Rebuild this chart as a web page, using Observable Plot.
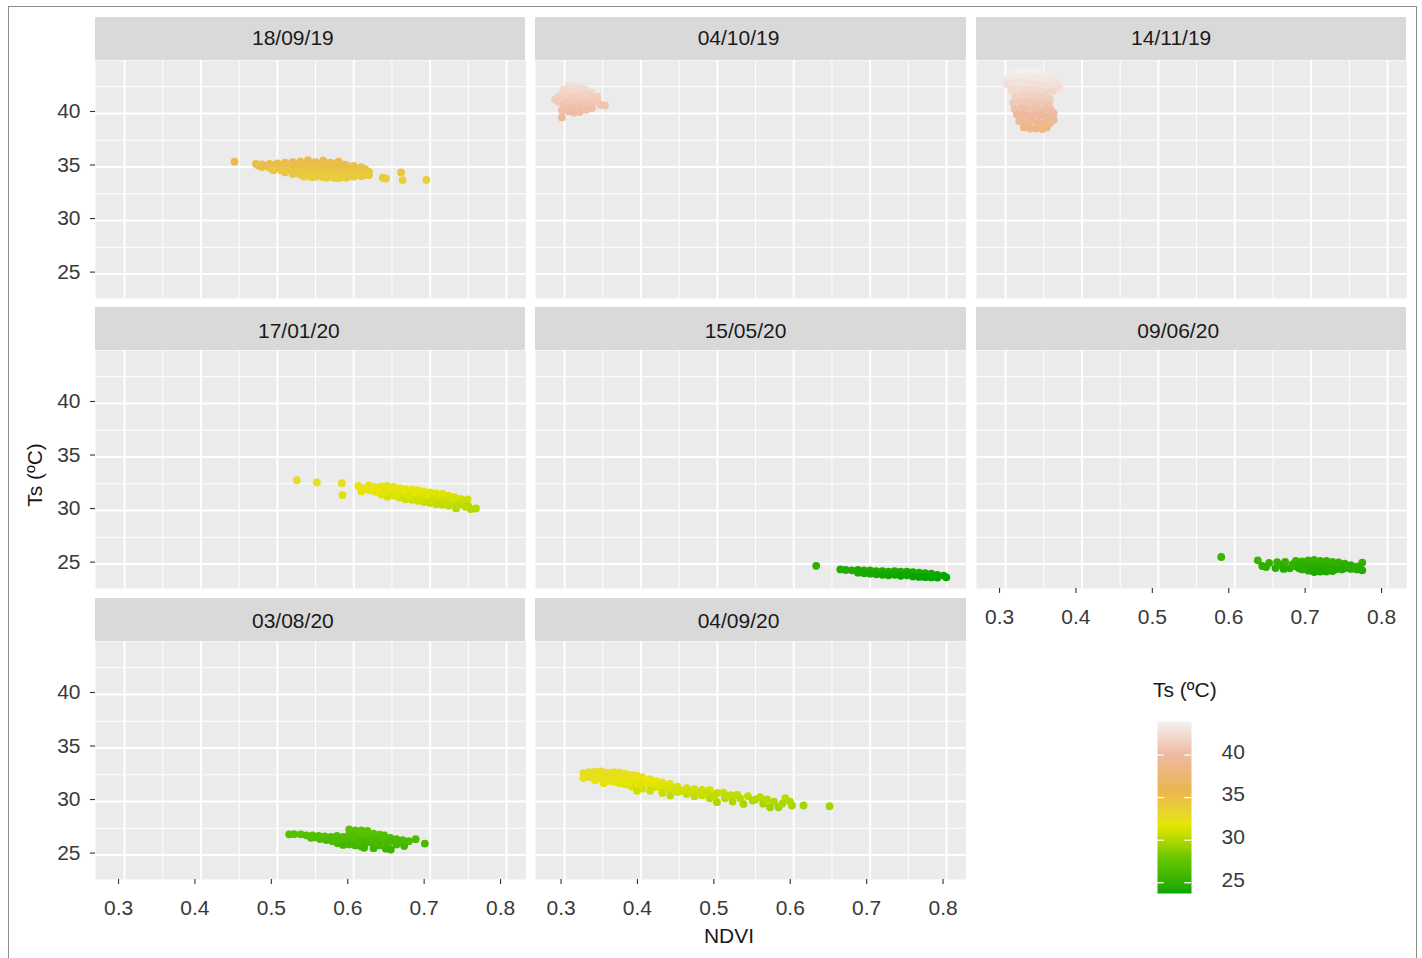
<!DOCTYPE html>
<html><head><meta charset="utf-8">
<script src="https://cdn.jsdelivr.net/npm/d3@7"></script>
<script src="https://cdn.jsdelivr.net/npm/@observablehq/plot@0.6"></script>
<style>
body{margin:0;background:#fff;font-family:"Liberation Sans",Arial,sans-serif;}
#chart{position:relative;width:1422px;height:958px;overflow:hidden;background:#fff;}
.strip{position:absolute;background:#d9d9d9;color:#1a1a1a;font-size:21px;}
.strip span{position:absolute;top:50%;white-space:nowrap;}
.abs{position:absolute;}
.lbl{position:absolute;font-size:21px;color:#1a1a1a;white-space:nowrap;}
</style></head><body><div id="chart"></div><script>
// ---- data ----
const dates = ["18/09/19","04/10/19","14/11/19","17/01/20","15/05/20","09/06/20","03/08/20","04/09/20"];
// each point: [NDVI, Ts]
const p180919 = [[0.444,35.5],[0.472,35.3],[0.48,35.25],[0.49,35.3],[0.50,35.35],[0.51,35.4],[0.52,35.45],[0.53,35.5],[0.54,35.65],[0.55,35.45],[0.56,35.6],[0.57,35.4],[0.58,35.5],[0.59,35.2],[0.60,35.1],[0.61,35.0],
 [0.48,35.0],[0.49,34.9],[0.50,34.95],[0.51,34.9],[0.52,34.85],[0.53,34.9],[0.54,34.85],[0.55,34.8],[0.56,34.85],[0.57,34.8],[0.58,34.75],[0.59,34.7],[0.60,34.65],[0.61,34.6],[0.62,34.55],
 [0.50,35.1],[0.52,35.15],[0.54,35.2],[0.56,35.2],[0.58,35.1],[0.60,34.95],
 [0.51,34.5],[0.52,34.35],[0.53,34.3],[0.54,34.2],[0.55,34.1],[0.56,34.05],[0.57,34.1],[0.58,33.95],[0.59,34.0],[0.60,34.1],[0.61,34.15],[0.62,34.25],
 [0.53,34.6],[0.55,34.5],[0.57,34.45],[0.59,34.4],[0.61,34.35],
 [0.475,35.15],[0.485,35.1],[0.495,35.15],[0.505,35.2],[0.515,35.2],[0.525,35.25],[0.535,35.3],[0.545,35.4],[0.555,35.3],[0.565,35.35],[0.575,35.3],[0.585,35.25],[0.595,35.0],[0.605,34.85],[0.615,34.8],
 [0.495,34.7],[0.505,34.7],[0.515,34.7],[0.525,34.65],[0.535,34.65],[0.545,34.6],[0.555,34.6],[0.565,34.6],[0.575,34.55],[0.585,34.55],[0.595,34.5],[0.605,34.45],[0.615,34.45],
 [0.525,34.45],[0.535,34.4],[0.545,34.35],[0.555,34.3],[0.565,34.3],[0.575,34.25],[0.585,34.2],[0.595,34.2],[0.605,34.25],[0.615,34.25],
 [0.535,34.1],[0.545,34.05],[0.555,34.2],[0.565,34.0],[0.575,33.98],[0.585,34.05],
 [0.638,34.0],[0.642,33.93],[0.662,34.5],[0.664,33.78],[0.695,33.8]];
const p041019 = [[0.2876,41.3],[0.292,41.6],[0.292,41.1],[0.298,42.2],[0.298,41.8],[0.298,41.3],[0.298,40.8],[0.2965,40.3],[0.2965,39.63],
 [0.305,42.55],[0.305,42.1],[0.305,41.6],[0.305,41.1],[0.305,40.6],[0.305,40.2],
 [0.312,42.5],[0.312,42.0],[0.312,41.5],[0.312,41.0],[0.312,40.5],[0.312,40.1],
 [0.32,42.45],[0.32,42.0],[0.32,41.5],[0.32,41.0],[0.32,40.5],[0.32,40.15],
 [0.328,42.2],[0.328,41.8],[0.328,41.3],[0.328,40.8],[0.328,40.35],
 [0.336,41.9],[0.336,41.5],[0.336,41.0],[0.336,40.5],
 [0.343,41.55],[0.343,41.1],[0.347,40.8],[0.353,40.75]];
const p141119 = [[0.31,43.7],[0.318,43.94],[0.326,43.8],[0.334,43.9],[0.342,43.85],[0.35,43.6],[0.358,43.4],
 [0.303,43.2],[0.31,43.3],[0.318,43.4],[0.326,43.3],[0.334,43.4],[0.342,43.3],[0.35,43.2],[0.36,43.0],[0.368,42.8],
 [0.302,42.7],[0.31,42.8],[0.318,42.9],[0.326,42.8],[0.334,42.8],[0.342,42.7],[0.35,42.6],[0.358,42.5],[0.37,42.4],
 [0.308,42.2],[0.316,42.3],[0.324,42.2],[0.332,42.2],[0.34,42.1],[0.348,42.0],[0.356,41.9],[0.362,42.1],
 [0.313,41.6],[0.32,41.7],[0.328,41.6],[0.336,41.6],[0.344,41.5],[0.352,41.6],[0.358,41.3],
 [0.31,41.0],[0.318,41.1],[0.326,41.0],[0.334,41.1],[0.342,40.9],[0.35,41.0],[0.357,40.8],
 [0.312,40.4],[0.32,40.5],[0.328,40.4],[0.336,40.5],[0.344,40.3],[0.352,40.4],[0.36,40.3],[0.363,40.0],
 [0.315,39.9],[0.322,39.9],[0.33,39.8],[0.338,39.9],[0.346,39.8],[0.354,39.7],[0.362,39.5],
 [0.318,39.3],[0.326,39.2],[0.334,39.3],[0.342,39.2],[0.35,39.1],[0.358,39.1],[0.363,39.4],
 [0.324,38.7],[0.332,38.6],[0.34,38.6],[0.348,38.55],[0.354,38.7]];
const p170120 = [[0.5255,32.84],[0.5517,32.62],[0.5844,32.56],[0.5853,31.45],
 [0.606,32.3],[0.61,31.8],[0.614,32.1],[0.62,32.35],[0.62,31.9],[0.628,32.2],[0.628,31.75],[0.636,32.25],[0.636,31.85],[0.636,31.5],
 [0.644,32.3],[0.644,31.9],[0.644,31.3],[0.652,32.2],[0.652,31.8],[0.652,31.4],[0.66,32.1],[0.66,31.7],[0.66,31.2],
 [0.668,32.0],[0.668,31.6],[0.668,31.05],[0.676,31.95],[0.676,31.5],[0.676,31.0],[0.684,31.9],[0.684,31.4],[0.684,30.9],
 [0.692,31.8],[0.692,31.3],[0.692,30.8],[0.70,31.7],[0.70,31.2],[0.70,30.7],[0.708,31.6],[0.708,31.1],[0.708,30.6],
 [0.716,31.55],[0.716,31.0],[0.716,30.55],[0.724,31.4],[0.724,30.9],[0.724,30.45],[0.732,31.25],[0.732,30.75],[0.734,30.2],
 [0.74,31.1],[0.742,30.6],[0.749,31.04],[0.75,30.4],[0.7533,30.13],[0.76,30.2],
 [0.612,32.0],[0.624,32.1],[0.632,31.95],[0.64,31.7],[0.648,32.05],[0.656,31.6],[0.664,31.9],[0.672,31.3],[0.68,31.75],[0.688,31.1],
 [0.696,31.5],[0.704,30.95],[0.712,31.35],[0.72,30.7],[0.728,31.1],[0.736,30.5],[0.744,30.85],[0.746,30.35]];
const p150520 = [[0.6294,24.84],[0.661,24.5],[0.668,24.45],[0.676,24.42],[0.684,24.45],[0.684,24.2],[0.692,24.4],[0.692,24.15],
 [0.70,24.42],[0.70,24.1],[0.708,24.35],[0.708,24.05],[0.716,24.35],[0.716,24.0],[0.724,24.3],[0.724,23.95],[0.732,24.35],[0.732,24.0],
 [0.74,24.3],[0.74,23.9],[0.748,24.3],[0.748,23.95],[0.756,24.25],[0.756,23.85],[0.764,24.2],[0.764,23.8],[0.772,24.15],[0.772,23.78],
 [0.78,24.1],[0.78,23.75],[0.788,24.0],[0.788,23.74],[0.796,23.93],[0.7997,23.76]];
const p090620 = [[0.5823,25.66],[0.6302,25.35],[0.6359,24.82],[0.641,24.72],[0.6534,24.63],[0.6555,25.19],[0.666,25.2],[0.672,24.6],
 [0.68,25.3],[0.68,24.8],[0.688,25.25],[0.688,24.5],[0.696,25.35],[0.696,24.9],[0.696,24.4],[0.704,25.4],[0.704,25.0],[0.704,24.6],[0.704,24.26],
 [0.712,25.3],[0.712,24.9],[0.712,24.5],[0.712,24.3],[0.72,25.3],[0.72,24.9],[0.72,24.5],[0.72,24.3],[0.728,25.2],[0.728,24.8],[0.728,24.35],
 [0.736,25.15],[0.736,24.7],[0.744,25.05],[0.744,24.6],[0.752,24.9],[0.752,24.55],[0.76,24.75],[0.76,24.5],[0.7669,25.14],[0.7669,24.42],
 [0.645,25.1],[0.66,24.9],[0.664,24.55],[0.676,25.0],[0.684,25.0],[0.684,24.6],[0.692,25.1],[0.692,24.7],[0.7,25.2],[0.7,24.8],[0.7,24.4],
 [0.708,25.2],[0.708,24.7],[0.708,24.35],[0.716,25.1],[0.716,24.7],[0.716,24.4],[0.724,25.1],[0.724,24.6],[0.732,25.0],[0.732,24.5],
 [0.74,24.9],[0.74,24.5],[0.748,24.8],[0.756,24.7],[0.764,24.6]];
const p030820 = [[0.5155,26.94],[0.522,26.95],[0.5308,26.94],[0.538,26.85],[0.544,26.62],[0.546,26.85],[0.554,26.8],[0.556,26.5],[0.562,26.75],[0.564,26.4],
 [0.57,26.7],[0.572,26.3],[0.578,26.8],[0.5788,26.1],[0.586,26.7],[0.586,26.25],[0.586,25.95],[0.594,27.41],[0.594,26.95],[0.594,26.5],[0.594,26.0],
 [0.602,27.3],[0.602,26.8],[0.602,26.35],[0.602,25.9],[0.61,27.3],[0.61,26.9],[0.61,26.4],[0.61,25.8],[0.618,27.25],[0.618,26.75],[0.618,26.2],[0.6136,25.68],
 [0.626,27.0],[0.626,26.5],[0.626,26.0],[0.626,25.65],[0.634,26.9],[0.634,26.4],[0.634,25.9],[0.64,26.85],[0.642,26.3],[0.642,25.6],[0.648,26.6],[0.6486,25.52],
 [0.656,26.5],[0.656,26.0],[0.664,26.4],[0.666,25.84],[0.672,26.3],[0.681,26.48],[0.693,26.08],
 [0.55,26.65],[0.566,26.55],[0.58,26.45],[0.598,26.65],[0.606,26.1],[0.614,27.05],[0.622,26.45],[0.63,26.2],[0.638,26.6],[0.646,26.2],[0.652,26.3],[0.66,26.2]];
const p040920 = [[0.3248,32.66],[0.3248,32.19],[0.332,32.75],[0.332,32.3],[0.34,32.8],[0.34,32.4],[0.34,32.0],[0.348,32.82],[0.348,32.45],[0.351,31.72],
 [0.356,32.7],[0.356,32.3],[0.356,31.9],[0.364,32.75],[0.364,32.35],[0.364,31.85],[0.372,32.7],[0.372,32.3],[0.372,31.7],[0.38,32.6],[0.38,32.2],[0.38,31.6],
 [0.388,32.5],[0.388,32.05],[0.388,31.4],[0.3947,32.41],[0.3947,31.9],[0.3947,31.0],[0.402,32.25],[0.402,31.7],[0.402,31.2],[0.412,32.1],[0.412,31.5],[0.412,31.0],
 [0.42,31.9],[0.42,31.35],[0.428,31.8],[0.428,31.2],[0.428,30.8],[0.438,31.66],[0.438,31.1],[0.4383,30.56],[0.448,31.4],[0.448,30.9],[0.46,31.26],[0.46,30.7],
 [0.47,31.15],[0.47,30.5],[0.48,31.1],[0.48,30.6],[0.49,31.1],[0.49,30.3],[0.4994,29.94],[0.5,30.8],[0.508,30.84],[0.51,30.3],[0.518,30.6],[0.52,30.0],
 [0.526,30.63],[0.5342,29.78],[0.54,30.5],[0.546,30.1],[0.556,30.41],[0.56,29.8],[0.569,29.47],[0.574,30.0],[0.58,29.47],[0.589,30.31],[0.5976,29.63],[0.6128,29.63],[0.6468,29.57],
 [0.328,32.45],[0.336,32.55],[0.344,32.6],[0.344,32.2],[0.352,32.6],[0.352,32.1],[0.36,32.5],[0.36,32.1],[0.368,32.5],[0.368,32.05],[0.376,32.45],[0.376,31.95],
 [0.384,32.3],[0.384,31.8],[0.392,32.2],[0.398,31.6],[0.406,31.95],[0.416,31.8],[0.424,31.6],[0.434,31.4],[0.444,31.2],[0.454,31.0],[0.464,30.95],[0.476,30.85],
 [0.486,30.8],[0.496,30.55],[0.514,30.55],[0.53,30.3],[0.55,30.2],[0.565,30.2],[0.585,29.8],[0.595,30.0]];
const series = [p180919,p041019,p141119,p170120,p150520,p090620,p030820,p040920];
const xTicks = [0.3,0.4,0.5,0.6,0.7,0.8];
const xMinor = [0.35,0.45,0.55,0.65,0.75];
const yTicks = [25,30,35,40];
const yMinor = [27.5,32.5,37.5,42.5];
const palette = ["#00A600","#63C600","#E6E600","#EAB64E","#EEB99F","#F2F2F2"]; // terrain.colors(6)

// ---- scales ----
const all = series.flat();
const [xmin,xmax] = d3.extent(all, d=>d[0]);
const [tmin,tmax] = d3.extent(all, d=>d[1]);
const xr = xmax-xmin, tr = tmax-tmin;
const xDomain = [xmin-0.05*xr, xmax+0.05*xr];
const yDomain = [tmin-0.05*tr, tmax+0.05*tr];
const colorOpts = {type:"linear", domain: palette.map((_,i)=>tmin + i*tr/(palette.length-1)), range: palette, interpolate:"lab"};

// ---- layout ----
const chart = document.getElementById("chart");
const colLeft = [94.7, 535.35, 976.0], rowTop = [59.6, 350.1, 640.6];
const PW = 430.4, PH = 237.9, STRIP = 43;
const stripDx = [-17,-12,-20,-11,-5,-13,-17,-12];
const stripDy = [0,0,0,2,2,2,2,2];
const tickDx = [-6,-3.5,-6];
const FONT = "'Liberation Sans', Arial, sans-serif";

series.forEach((pts, i) => {
  const col = i % 3, row = Math.floor(i/3);
  const showY = col === 0;
  const showX = row === 2 || (row === 1 && col === 2);
  const ml = showY ? 60 : 0, mb = showX ? 45 : 0;
  const svg = Plot.plot({
    width: PW + ml, height: PH + mb,
    marginLeft: ml, marginRight: 0, marginTop: 0, marginBottom: mb,
    x: {domain: xDomain, axis: null},
    y: {domain: yDomain, axis: null},
    color: colorOpts,
    style: {fontFamily: FONT, fontSize: "21px", color: "#3a3a3a", background: "transparent", overflow: "visible"},
    marks: [
      Plot.frame({fill: "#ebebeb", stroke: null}),
      Plot.gridX(xMinor, {stroke: "white", strokeOpacity: 1, strokeWidth: 1}),
      Plot.gridY(yMinor, {stroke: "white", strokeOpacity: 1, strokeWidth: 1}),
      Plot.gridX(xTicks, {stroke: "white", strokeOpacity: 1, strokeWidth: 2}),
      Plot.gridY(yTicks, {stroke: "white", strokeOpacity: 1, strokeWidth: 2}),
      Plot.dot(pts, {x: d=>d[0], y: d=>d[1], fill: d=>d[1], r: 3.9, stroke: null}),
      showY ? Plot.axisY(yTicks, {tickSize: 5, tickPadding: 10, dy: -2, stroke: "#333", strokeWidth: 1.1, label: null, fontSize: 21, fill: "#3a3a3a"}) : null,
      showX ? Plot.axisX(xTicks, {tickSize: 5, tickPadding: 16, dx: tickDx[col], stroke: "#333", strokeWidth: 1.1, label: null, fontSize: 21, fill: "#3a3a3a", tickFormat: d3.format(".1f")}) : null
    ]
  });
  svg.classList.add("abs");
  svg.style.left = (colLeft[col] - ml) + "px";
  svg.style.top = rowTop[row] + "px";
  chart.appendChild(svg);
  const s = document.createElement("div");
  s.className = "strip";
  s.style.left = colLeft[col] + "px";
  s.style.top = (rowTop[row] - STRIP) + "px";
  s.style.width = PW + "px";
  s.style.height = STRIP + "px";
  const sp = document.createElement("span");
  sp.textContent = dates[i];
  sp.style.left = (PW/2 + stripDx[i]) + "px";
  sp.style.transform = `translate(-50%, calc(-50% + ${stripDy[i]}px))`;
  s.appendChild(sp);
  chart.appendChild(s);
});

// axis titles
const xt = document.createElement("div");
xt.className = "lbl"; xt.textContent = "NDVI";
xt.style.left = "729px"; xt.style.top = "936px"; xt.style.transform = "translate(-50%,-50%)";
chart.appendChild(xt);
const yt = document.createElement("div");
yt.className = "lbl"; yt.textContent = "Ts (ºC)";
yt.style.left = "35px"; yt.style.top = "475px"; yt.style.transform = "translate(-50%,-50%) rotate(-90deg)";
chart.appendChild(yt);

// legend
const lt = document.createElement("div");
lt.className = "lbl"; lt.textContent = "Ts (ºC)";
lt.style.left = "1153px"; lt.style.top = "690px"; lt.style.transform = "translate(0,-50%)";
chart.appendChild(lt);
const BARH = 172, BARW = 34;
const leg = Plot.plot({
  width: BARW + 60, height: BARH,
  marginLeft: 0, marginRight: 60, marginTop: 0, marginBottom: 0,
  x: {domain: [0,1], axis: null},
  y: {domain: [tmin, tmax], axis: null},
  color: colorOpts,
  style: {fontFamily: FONT, fontSize: "21px", color: "#3a3a3a", background: "transparent", overflow: "visible"},
  marks: [
    Plot.raster({x1: 0, x2: 1, y1: tmin, y2: tmax, width: 1, height: BARH, fill: (x, y) => y, imageRendering: "auto"}),
    Plot.ruleY(yTicks, {x1: 0, x2: 0.2, stroke: "white", strokeWidth: 1.2}),
    Plot.ruleY(yTicks, {x1: 0.8, x2: 1, stroke: "white", strokeWidth: 1.2}),
    Plot.axisY(yTicks, {anchor: "right", tickSize: 0, tickPadding: 30, dy: -3, label: null, fontSize: 21, fill: "#3a3a3a"})
  ]
});
leg.classList.add("abs");
leg.style.left = "1157px"; leg.style.top = "720.7px";
chart.appendChild(leg);

// outer frame
const fr = document.createElement("div");
fr.style.cssText = "position:absolute;left:8px;top:6px;width:1407px;height:970px;border:1px solid #8c8c8c;pointer-events:none;";
chart.appendChild(fr);
</script></body></html>
